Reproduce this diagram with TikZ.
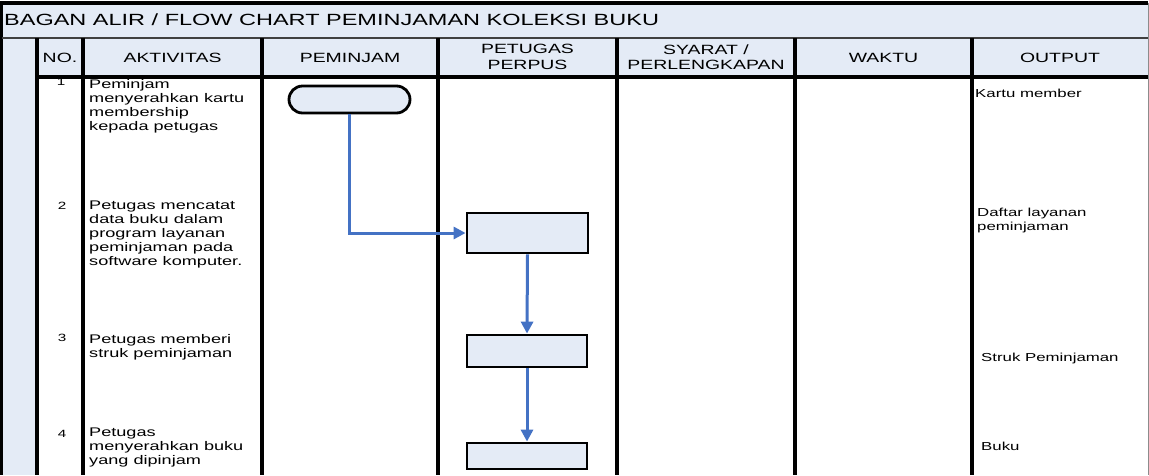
\documentclass[tikz,border=0pt]{standalone}
\usepackage{fontspec}
\setmainfont{Liberation Sans}[FakeStretch=1.45]
\usetikzlibrary{arrows.meta}
\definecolor{hdr}{HTML}{E4EBF6}
\definecolor{flow}{HTML}{4472C4}
\begin{document}
\begin{tikzpicture}[x=1pt,y=-1pt,
  tline/.style={line width=3.2pt,black},
  thin/.style={line width=1.4pt,black!75},
  ttl/.style={inner sep=0pt,anchor=west,font=\fontsize{16.2}{18}\selectfont},
  colh/.style={inner sep=0pt,align=center,font=\fontsize{13.4}{15.5}\selectfont},
  num/.style={inner sep=0pt,font=\fontsize{10.5}{12}\selectfont},
  act/.style={inner sep=0pt,anchor=north west,align=left,font=\fontsize{12.5}{14}\selectfont},
  outp/.style={inner sep=0pt,align=left,font=\fontsize{11.6}{14}\selectfont},
  proc/.style={draw=black,line width=2.8pt,fill=hdr,inner sep=0pt},
  flowarrow/.style={flow,line width=3pt,-{Triangle[length=12pt,width=12pt]}}
]
\useasboundingbox (0,0) rectangle (1149,475);
% fills
\fill[hdr] (1.5,3) rectangle (1148,38);
\fill[hdr] (1.5,38) rectangle (37,475);
\fill[hdr] (37,38) rectangle (1148,77);
% grid lines
\draw[tline] (0.2,3) -- (1148,3);
\draw[tline] (1.5,3) -- (1.5,475);
\draw[thin] (1.5,38) -- (1148,38);
\draw[tline] (37,77) -- (1148,77);
\foreach \xx in {37,83,262,438,617,795,972}{\draw[tline] (\xx,38) -- (\xx,475);}
\draw[black!45,line width=1pt] (1148,3) -- (1148,475);
% title
\node[ttl] (title) at (4,20) {BAGAN ALIR / FLOW CHART PEMINJAMAN KOLEKSI BUKU};
% column headers
\node[colh] (hno) at (60,57.5) {NO.};
\node[colh] (hakt) at (172.5,57.5) {AKTIVITAS};
\node[colh] (hpem) at (350,57.5) {PEMINJAM};
\node[colh] (hpet) at (527.5,57) {PETUGAS\\PERPUS};
\node[colh] (hsya) at (706,57) {SYARAT /\\PERLENGKAPAN};
\node[colh] (hwak) at (883.5,57.5) {WAKTU};
\node[colh] (hout) at (1060,57.5) {OUTPUT};
% numbers
\node[num] (n1) at (61,82) {1};
\node[num] (n2) at (62,206) {2};
\node[num] (n3) at (62,338) {3};
\node[num] (n4) at (62,434) {4};
% activities
\node[act] (a1) at (89,79) {Peminjam\\menyerahkan kartu\\membership\\kepada petugas};
\node[act] (a2) at (89,201) {Petugas mencatat\\data buku dalam\\program layanan\\peminjaman pada\\software komputer.};
\node[act] (a3) at (89,334) {Petugas memberi\\struk peminjaman};
\node[act] (a4) at (89,428) {Petugas\\menyerahkan buku\\yang dipinjam};
% outputs
\node[outp,anchor=west] (o1) at (975,93) {Kartu member};
\node[outp,anchor=north west] (o2) at (977,208) {Daftar layanan\\peminjaman};
\node[outp,anchor=west] (o3) at (981,358) {Struk Peminjaman};
\node[outp,anchor=west] (o4) at (981,446) {Buku};
% flow shapes
\node[proc,rounded corners=13.5pt,minimum width=121pt,minimum height=27pt] (s1) at (349.5,99.5) {};
\node[proc,minimum width=121pt,minimum height=40pt] (s2) at (527.5,233) {};
\node[proc,minimum width=120pt,minimum height=32pt] (s3) at (527,351) {};
\node[proc,minimum width=120pt,minimum height=26pt] (s4) at (527,456) {};
% connectors
\draw[flowarrow] (s1.south) |- (s2.west);
\draw[flowarrow] (s2.south) -- (s3.north);
\draw[flowarrow] (s3.south) -- (s4.north);
\end{tikzpicture}
\end{document}
